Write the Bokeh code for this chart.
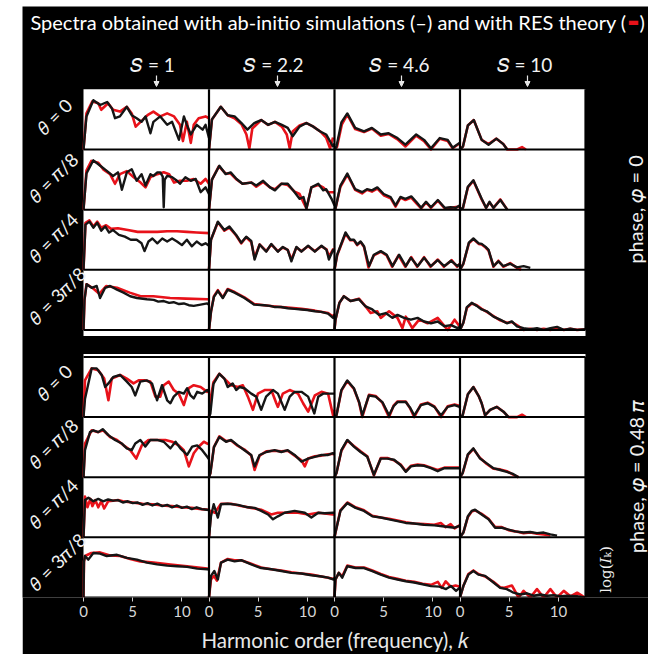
import numpy as np
from bokeh.plotting import figure
from bokeh.models import Range1d, FixedTicker, Label, Spacer, Arrow, NormalHead
from bokeh.layouts import column, row
from bokeh.embed import file_html
from bokeh.resources import INLINE

# ---------------- data (normalised log-intensity inside each panel, 0..1) ----------------
K_SPAN = 12.75                      # harmonic-order range shown in every column
S_VALUES = ["1", "2.2", "4.6", "10"]
THETA_LABELS = ["𝜃 = 0", "𝜃 = 𝜋/8", "𝜃 = 𝜋/4", "𝜃 = 3𝜋/8"]
TICK_VALUES = [0, 5, 10]
PHASE_LABELS = ["phase, 𝜑 = 0", "phase, 𝜑 = 0.48 𝜋"]

# ---- phase 0 (upper block) ----
U_t0_s1_sim_k = [0,0.3,1.0,1.7,2.4,2.9,3.2,3.7,4.4,4.9,5.4,5.9,6.3,6.8,7.1,7.8,8.5,9.0,9.7,10.2,10.5,10.9,11.5,12.1,12.4,12.75]
U_t0_s1_sim_y = [0,0.55,0.82,0.74,0.79,0.68,0.52,0.55,0.71,0.57,0.52,0.46,0.55,0.27,0.46,0.55,0.41,0.46,0.16,0.55,0.41,0.25,0.41,0.33,0.41,0.19]
U_t0_s1_res_k = [0,0.3,0.9,1.5,1.8,2.5,3.0,3.7,4.4,4.9,5.3,5.8,6.5,7.1,7.8,8.5,9.2,9.8,10.1,10.5,10.9,11.2,11.7,12.4,12.75]
U_t0_s1_res_y = [0,0.6,0.8,0.77,0.66,0.77,0.66,0.63,0.71,0.6,0.38,0.46,0.57,0.63,0.55,0.6,0.55,0.41,0.14,0.46,0.11,0.41,0.52,0.55,0.52]

U_t0_s2_sim_k = [0,0.3,1.2,1.9,2.6,3.3,3.9,4.6,5.3,6.0,6.7,7.4,8.0,8.5,9.2,9.9,10.6,11.3,11.9,12.6,12.75]
U_t0_s2_sim_y = [0,0.5,0.71,0.57,0.55,0.44,0.33,0.44,0.49,0.41,0.46,0.41,0.36,0.22,0.38,0.44,0.38,0.30,0.25,0.05,0.1]
U_t0_s2_res_k = [0,0.3,1.2,1.9,2.6,3.3,3.8,4.1,4.4,5.3,6.0,6.7,7.4,7.9,8.2,8.5,9.2,9.9,10.6,11.3,11.9,12.3,12.6]
U_t0_s2_res_y = [0,0.5,0.71,0.57,0.52,0.42,0.25,0.02,0.35,0.49,0.41,0.46,0.38,0.25,0.02,0.3,0.4,0.44,0.38,0.30,0.2,0.02,0.2]

U_t0_s3_sim_k = [0,0.2,0.7,1.3,2.1,3.0,3.8,4.7,5.5,6.4,7.2,8.3,9.1,9.8,10.7,11.5,12.0,12.7]
U_t0_s3_sim_y = [0,0.05,0.45,0.60,0.36,0.30,0.36,0.25,0.27,0.19,0.08,0.25,0.16,0.02,0.19,0.16,0.03,0.11]
U_t0_s3_res_k = [0,0.25,0.75,1.3,2.1,3.0,3.8,4.7,5.5,6.4,7.2,8.3,9.1,9.8,10.7,11.5,12.0,12.7]
U_t0_s3_res_y = [0,0.04,0.42,0.58,0.34,0.29,0.35,0.23,0.26,0.17,0.05,0.23,0.14,0.0,0.18,0.14,0.02,0.1]

U_t0_s4_sim_k = [0,0.3,0.8,1.4,2.2,2.9,3.7,4.4,4.8]
U_t0_s4_sim_y = [0,0.05,0.4,0.49,0.16,0.08,0.18,0.09,0.0]
U_t0_s4_res_k = [0,0.3,0.8,1.4,2.2,2.9,3.7,4.4,4.8,5.8,6.3,6.7]
U_t0_s4_res_y = [0,0.05,0.4,0.49,0.16,0.09,0.18,0.09,0.0,0.0,0.04,0.0]

U_t1_s1_sim_k = [0,0.3,1.0,1.7,2.4,3.0,3.5,3.9,4.4,4.9,5.4,5.9,6.3,6.8,7.1,7.5,7.8,8.05,8.15,8.25,8.5,9.0,9.5,9.8,10.35,10.9,11.4,11.9,12.4,12.75]
U_t1_s1_sim_y = [0,0.6,0.82,0.73,0.64,0.56,0.62,0.33,0.62,0.67,0.48,0.59,0.40,0.59,0.56,0.62,0.62,0.55,0.04,0.5,0.56,0.54,0.48,0.43,0.54,0.48,0.51,0.29,0.37,0.26]
U_t1_s1_res_k = [0,0.3,0.8,1.5,2.0,2.7,3.2,3.7,4.4,5.1,5.8,6.3,6.8,7.5,8.15,8.7,9.2,9.8,10.5,11.2,11.9,12.4,12.75]
U_t1_s1_res_y = [0,0.65,0.81,0.78,0.67,0.59,0.43,0.59,0.64,0.54,0.45,0.37,0.54,0.59,0.62,0.59,0.45,0.48,0.48,0.51,0.43,0.51,0.43]

U_t1_s2_sim_k = [0,0.3,1.05,1.7,2.2,2.8,3.4,4.3,4.8,5.5,6.2,6.7,7.35,8.0,8.7,9.2,9.6,9.9,10.4,11.1,11.6,11.9,12.45,12.75]
U_t1_s2_sim_y = [0,0.5,0.73,0.59,0.62,0.51,0.43,0.45,0.40,0.48,0.37,0.32,0.43,0.43,0.29,0.18,0.21,0.02,0.37,0.43,0.32,0.34,0.18,0.07]
U_t1_s2_res_k = [0,0.3,1.0,1.7,2.2,2.8,3.4,4.3,4.8,5.5,6.2,6.7,7.35,8.0,8.7,9.2,9.6,9.9,10.4,11.1,11.6,12.1,12.75]
U_t1_s2_res_y = [0,0.5,0.72,0.6,0.6,0.5,0.43,0.45,0.38,0.46,0.37,0.34,0.43,0.41,0.3,0.26,0.12,0.02,0.37,0.41,0.37,0.29,0.29]

U_t1_s3_sim_k = [0,0.1,0.6,1.3,2.1,2.8,3.3,3.8,4.35,5.0,5.7,6.2,6.7,7.2,7.8,8.3,8.8,9.3,9.8,10.5,11.2,11.8,12.35,12.7]
U_t1_s3_sim_y = [0,0.02,0.4,0.6,0.34,0.29,0.34,0.32,0.37,0.26,0.21,0.07,0.21,0.18,0.22,0.13,0.03,0.13,0.04,0.16,0.03,0.04,0.03,0.07]
U_t1_s3_res_k = [0,0.1,0.6,1.3,2.1,2.8,3.3,3.8,4.35,5.0,5.7,6.2,6.7,7.2,7.8,8.3,8.8,9.3,9.8,10.5,11.2,11.8,12.7]
U_t1_s3_res_y = [0,0.02,0.38,0.58,0.33,0.27,0.33,0.3,0.35,0.24,0.19,0.05,0.2,0.16,0.2,0.11,0.02,0.12,0.03,0.15,0.02,0.03,0.05]

U_t1_s4_sim_k = [0,0.3,0.8,1.36,2.2,2.65,3.0,3.4,4.1,4.8]
U_t1_s4_sim_y = [0,0.03,0.38,0.49,0.18,0.03,0.13,0.03,0.16,0.0]
U_t1_s4_res_k = [0,0.3,0.8,1.36,2.2,2.65,3.0,3.4,4.1,4.8]
U_t1_s4_res_y = [0,0.03,0.37,0.48,0.17,0.03,0.12,0.03,0.17,0.0]

U_t2_s1_sim_k = [0,0.2,0.6,1.0,1.4,1.8,2.2,2.6,3.0,3.6,4.2,4.8,5.4,5.9,6.2,6.6,7.0,7.5,8.0,8.5,9.0,9.5,10.0,10.5,11.0,11.5,12.0,12.4,12.75]
U_t2_s1_sim_y = [0,0.75,0.8,0.7,0.78,0.65,0.72,0.62,0.66,0.58,0.55,0.5,0.5,0.44,0.31,0.47,0.52,0.44,0.52,0.47,0.52,0.47,0.41,0.5,0.39,0.47,0.41,0.44,0.4]
U_t2_s1_res_k = [0,0.2,0.6,1.0,1.4,1.8,2.3,2.8,3.5,4.5,5.5,6.5,7.5,8.5,9.5,10.5,11.5,12.75]
U_t2_s1_res_y = [0,0.78,0.82,0.72,0.8,0.7,0.74,0.68,0.69,0.66,0.63,0.63,0.63,0.64,0.64,0.63,0.62,0.61]

U_t2_s2_sim_k = [0,0.2,0.9,1.56,2.07,2.76,3.27,3.78,4.29,4.63,5.14,5.82,6.33,7.0,7.5,8.0,8.37,8.88,9.39,10.07,10.75,11.43,11.94,12.18,12.6,12.75]
U_t2_s2_sim_y = [0,0.5,0.8,0.66,0.72,0.58,0.45,0.55,0.48,0.17,0.42,0.3,0.43,0.3,0.38,0.33,0.14,0.38,0.3,0.4,0.3,0.4,0.33,0.17,0.33,0.3]
U_t2_s2_res_k = [0,0.2,0.9,1.56,2.07,2.76,3.27,3.78,4.29,4.63,5.14,5.82,6.33,7.0,7.5,8.0,8.37,8.88,9.39,10.07,10.75,11.43,11.94,12.18,12.6,12.75]
U_t2_s2_res_y = [0,0.5,0.79,0.65,0.7,0.57,0.44,0.54,0.46,0.2,0.42,0.31,0.42,0.31,0.37,0.33,0.17,0.37,0.31,0.39,0.31,0.39,0.34,0.22,0.34,0.32]

U_t2_s3_sim_k = [0,0.27,1.12,1.6,1.97,2.3,2.65,3.0,3.5,4.0,4.7,5.3,5.9,6.56,7.24,7.76,8.44,9.1,9.8,10.48,11.16,11.84,12.5,12.75]
U_t2_s3_sim_y = [0,0.25,0.62,0.5,0.5,0.42,0.47,0.39,0.06,0.25,0.31,0.25,0.06,0.25,0.06,0.2,0.06,0.2,0.06,0.16,0.06,0.15,0.06,0.1]
U_t2_s3_res_k = [0,0.27,1.12,1.6,1.97,2.3,2.65,3.0,3.45,4.0,4.7,5.3,5.85,6.5,7.2,7.8,8.4,9.1,9.75,10.5,11.1,11.9,12.45,12.75]
U_t2_s3_res_y = [0,0.24,0.6,0.49,0.49,0.41,0.46,0.38,0.04,0.24,0.3,0.24,0.05,0.24,0.05,0.21,0.05,0.21,0.05,0.17,0.05,0.16,0.05,0.1]

U_t2_s4_sim_k = [0,0.34,0.9,1.36,1.9,2.2,2.6,2.9,3.4,3.9,4.4,5.1,5.8,6.46,7.14]
U_t2_s4_sim_y = [0,0.1,0.45,0.52,0.44,0.43,0.38,0.33,0.06,0.14,0.06,0.1,0.04,0.06,0.03]
U_t2_s4_res_k = [0,0.34,0.9,1.36,1.9,2.2,2.6,2.9,3.4,3.9,4.4,5.1,5.8,6.2]
U_t2_s4_res_y = [0,0.1,0.44,0.51,0.43,0.42,0.37,0.32,0.05,0.15,0.05,0.11,0.03,0.0]

U_t3_s1_sim_k = [0,0.1,0.32,0.83,1.34,1.68,2.2,2.7,3.4,4.07,4.74,5.43,6.44,7.13,7.6,8.15,8.7,9.16,9.7,10.19,10.7,11.2,11.9,12.57,12.75]
U_t3_s1_sim_y = [0,0.5,0.76,0.7,0.73,0.53,0.7,0.73,0.67,0.62,0.56,0.53,0.51,0.5,0.47,0.48,0.45,0.46,0.43,0.44,0.41,0.4,0.42,0.44,0.42]
U_t3_s1_res_k = [0,0.1,0.3,0.9,1.6,2.3,3.4,4.7,5.8,7.1,8.8,10.4,12.6,12.75]
U_t3_s1_res_y = [0,0.5,0.76,0.7,0.6,0.73,0.7,0.62,0.56,0.56,0.53,0.52,0.51,0.51]

U_t3_s2_sim_k = [0,0.2,0.5,0.9,1.4,1.9,2.6,3.6,4.6,5.6,6.2,6.7,7.3,8.0,8.7,9.4,10.0,10.75,11.4,12.1,12.6,12.75]
U_t3_s2_sim_y = [0,0.3,0.55,0.65,0.53,0.67,0.62,0.53,0.42,0.41,0.4,0.38,0.38,0.36,0.35,0.34,0.33,0.31,0.3,0.27,0.2,0.25]
U_t3_s2_res_k = [0,0.2,0.5,0.9,1.4,1.9,2.6,3.6,4.6,5.6,6.7,8.0,9.4,10.75,12.1,12.6,12.75]
U_t3_s2_res_y = [0,0.3,0.56,0.66,0.54,0.68,0.63,0.54,0.43,0.41,0.39,0.37,0.35,0.32,0.28,0.22,0.26]

U_t3_s3_sim_k = [0,0.1,0.5,0.95,1.63,2.48,3.16,3.84,4.52,5.2,5.88,6.4,7.07,7.76,8.44,9.1,9.8,10.48,11.16,11.84,12.5,12.75]
U_t3_s3_sim_y = [0,0.17,0.45,0.56,0.48,0.51,0.39,0.34,0.25,0.28,0.2,0.25,0.2,0.17,0.2,0.14,0.11,0.14,0.06,0.08,0.03,0.05]
U_t3_s3_res_k = [0,0.1,0.5,0.95,1.63,2.48,3.16,3.67,4.35,4.7,5.54,6.4,6.9,7.24,7.9,8.6,9.46,10.48,11.5,12.2,12.7]
U_t3_s3_res_y = [0,0.17,0.45,0.56,0.48,0.52,0.39,0.28,0.31,0.2,0.31,0.2,0.03,0.22,0.03,0.17,0.11,0.2,0.0,0.17,0.06]

U_t3_s4_sim_k = [0,0.34,0.7,1.19,1.7,2.2,2.72,3.4,4.08,4.76,5.27,5.78,6.46,7.14,7.82,8.5,9.18,9.86,10.54,11.2,11.9,12.7]
U_t3_s4_sim_y = [0,0.12,0.38,0.45,0.4,0.34,0.31,0.22,0.17,0.11,0.14,0.06,0.03,0.01,0.03,0.0,0.03,0.05,0.0,0.02,0.0,0.01]
U_t3_s4_res_k = [0,0.34,0.7,1.19,1.7,2.2,2.72,3.4,4.08,4.76,5.27,5.78,6.46,7.14,7.82,8.5,9.18,9.86,10.54,11.2,11.9,12.7]
U_t3_s4_res_y = [0,0.12,0.37,0.44,0.41,0.35,0.3,0.23,0.16,0.12,0.13,0.08,0.0,0.02,0.0,0.02,0.0,0.03,0.0,0.02,0.0,0.01]

# ---- phase 0.48 pi (lower block) ----
L_t0_s1_sim_k = [0,0.15,0.83,1.34,1.85,2.2,2.53,3.04,3.72,4.4,4.9,5.26,5.77,6.45,6.96,7.47,7.98,8.5,8.83,9.17,9.68,10.19,10.53,10.87,11.2,11.55,12.06,12.57,12.75]
L_t0_s1_sim_y = [0,0.3,0.81,0.81,0.7,0.5,0.56,0.67,0.7,0.59,0.5,0.36,0.59,0.61,0.56,0.28,0.53,0.28,0.23,0.34,0.42,0.39,0.48,0.36,0.31,0.42,0.39,0.45,0.42]
L_t0_s1_res_k = [0,0.15,0.83,1.5,2.1,2.53,2.87,3.72,4.4,5.08,5.6,6.28,6.79,7.3,7.8,8.15,8.66,9.17,9.68,10.19,10.7,11.2,11.9,12.57,12.75]
L_t0_s1_res_y = [0,0.61,0.81,0.78,0.64,0.28,0.64,0.7,0.64,0.56,0.61,0.61,0.59,0.34,0.34,0.53,0.59,0.45,0.39,0.2,0.48,0.53,0.5,0.42,0.45]

L_t0_s2_sim_k = [0,0.14,0.45,1.05,1.56,1.9,2.4,2.76,3.1,3.6,4.29,4.8,5.3,5.8,6.5,7.0,7.69,8.2,8.7,9.39,10.07,10.7,11.1,11.6,12.1,12.6,12.75]
L_t0_s2_sim_y = [0,0.06,0.55,0.72,0.64,0.5,0.56,0.45,0.5,0.48,0.39,0.34,0.12,0.34,0.45,0.39,0.12,0.34,0.42,0.42,0.34,0.06,0.34,0.39,0.39,0.39,0.39]
L_t0_s2_res_k = [0,0.14,0.45,1.05,1.56,2.24,2.93,3.44,3.95,4.46,4.97,5.65,6.33,6.84,7.0,7.5,8.2,9.05,9.56,10.07,10.75,11.43,12.1,12.6,12.75]
L_t0_s2_res_y = [0,0.28,0.58,0.72,0.64,0.53,0.5,0.53,0.34,0.12,0.39,0.45,0.45,0.23,0.17,0.39,0.45,0.39,0.23,0.09,0.36,0.42,0.39,0.03,0.12]

L_t0_s3_sim_k = [0,0.2,0.7,1.3,1.97,2.5,2.82,3.5,4.18,4.86,5.54,6.0,6.4,7.24,7.7,8.1,8.78,9.46,10.14,10.82,11.5,12.2,12.7,12.75]
L_t0_s3_sim_y = [0,0.03,0.45,0.61,0.48,0.25,0.03,0.36,0.34,0.25,0.03,0.18,0.25,0.25,0.15,0.03,0.2,0.23,0.17,0.03,0.17,0.2,0.17,0.15]
L_t0_s3_res_k = [0,0.2,0.7,1.3,1.97,2.5,2.82,3.5,4.18,4.86,5.54,6.0,6.4,7.24,7.7,8.1,8.78,9.46,10.14,10.82,11.5,12.2,12.7,12.75]
L_t0_s3_res_y = [0,0.03,0.44,0.6,0.47,0.24,0.0,0.37,0.35,0.24,0.0,0.19,0.26,0.26,0.14,0.0,0.21,0.24,0.18,0.0,0.18,0.21,0.19,0.17]

L_t0_s4_sim_k = [0,0.27,0.8,1.36,1.9,2.2,2.55,3.06,3.74,4.42,4.93]
L_t0_s4_sim_y = [0,0.03,0.38,0.5,0.35,0.23,0.03,0.12,0.17,0.09,0.0]
L_t0_s4_res_k = [0,0.27,0.8,1.36,1.9,2.2,2.55,3.06,3.74,4.42,4.93,5.8,6.3,6.7]
L_t0_s4_res_y = [0,0.03,0.38,0.5,0.35,0.23,0.03,0.12,0.17,0.09,0.0,0.0,0.04,0.0]

L_t1_s1_sim_k = [0,0.15,0.66,1.0,1.5,1.95,2.53,3.2,3.9,4.4,4.9,5.26,5.77,6.28,6.79,7.47,8.15,8.83,9.35,9.84,10.53,11.04,11.55,12.06,12.57,12.75]
L_t1_s1_sim_y = [0,0.45,0.75,0.78,0.75,0.80,0.70,0.62,0.56,0.48,0.45,0.56,0.62,0.51,0.62,0.62,0.59,0.48,0.59,0.48,0.37,0.51,0.53,0.45,0.34,0.3]
L_t1_s1_res_k = [0,0.15,0.83,1.5,2.0,2.7,3.4,4.07,4.75,5.36,5.93,6.6,7.47,8.32,9.0,9.68,10.19,10.7,11.2,11.72,12.23,12.57,12.75]
L_t1_s1_res_y = [0,0.56,0.78,0.75,0.78,0.67,0.62,0.53,0.45,0.31,0.53,0.62,0.62,0.62,0.59,0.53,0.45,0.18,0.40,0.51,0.59,0.56,0.55]

L_t1_s2_sim_k = [0,0.14,0.5,1.05,1.73,2.24,2.93,3.6,4.29,4.63,5.14,5.82,6.67,7.35,8.0,8.7,9.39,10.07,10.75,11.43,12.1,12.6,12.75]
L_t1_s2_sim_y = [0,0.07,0.5,0.67,0.59,0.62,0.53,0.45,0.37,0.18,0.37,0.42,0.45,0.42,0.45,0.37,0.26,0.31,0.34,0.37,0.37,0.40,0.38]
L_t1_s2_res_k = [0,0.14,0.5,1.05,1.73,2.24,2.93,3.6,4.29,4.63,5.14,5.82,6.67,7.35,8.0,8.7,9.39,9.73,10.07,10.75,11.43,12.1,12.6,12.75]
L_t1_s2_res_y = [0,0.07,0.5,0.68,0.6,0.61,0.52,0.46,0.36,0.12,0.36,0.43,0.44,0.43,0.44,0.36,0.28,0.18,0.31,0.35,0.36,0.38,0.39,0.38]

L_t1_s3_sim_k = [0,0.2,0.7,1.3,1.97,2.65,3.33,4.0,4.7,5.37,6.05,6.73,7.24,7.76,8.44,9.1,9.8,10.48,11.16,11.84,12.7,12.75]
L_t1_s3_sim_y = [0,0.07,0.45,0.62,0.51,0.42,0.34,0.04,0.31,0.31,0.29,0.2,0.09,0.18,0.2,0.19,0.15,0.1,0.15,0.15,0.15,0.15]
L_t1_s3_res_k = [0,0.2,0.7,1.3,1.97,2.65,3.33,4.0,4.7,5.37,6.05,6.73,7.24,7.76,8.44,9.1,9.8,10.48,11.16,11.84,12.7,12.75]
L_t1_s3_res_y = [0,0.07,0.44,0.61,0.52,0.43,0.35,0.03,0.32,0.32,0.28,0.21,0.1,0.19,0.21,0.2,0.16,0.12,0.16,0.16,0.16,0.16]

L_t1_s4_sim_k = [0,0.27,0.8,1.36,2.04,2.72,3.4,4.08,4.76,5.44,5.95]
L_t1_s4_sim_y = [0,0.07,0.38,0.48,0.31,0.23,0.15,0.12,0.09,0.05,0.0]
L_t1_s4_res_k = [0,0.27,0.8,1.36,2.04,2.72,3.4,4.08,4.76,5.44,5.95]
L_t1_s4_res_y = [0,0.07,0.37,0.47,0.32,0.22,0.14,0.13,0.1,0.04,0.0]

L_t2_s1_sim_k = [0,0.15,0.5,1.0,1.5,2.0,2.5,3.0,3.5,4.0,4.5,5.0,5.5,6.0,6.5,7.0,7.5,8.0,8.5,9.0,9.5,10.0,10.5,11.0,11.5,12.0,12.5,12.75]
L_t2_s1_sim_y = [0,0.62,0.66,0.6,0.64,0.6,0.63,0.61,0.62,0.58,0.6,0.57,0.58,0.54,0.57,0.53,0.56,0.52,0.54,0.5,0.53,0.49,0.51,0.47,0.5,0.47,0.46,0.45]
L_t2_s1_res_k = [0,0.15,0.4,0.7,0.9,1.2,1.5,1.8,2.1,2.5,3.0,3.5,4.0,4.5,5.0,5.5,6.0,7.0,8.0,9.0,10.0,11.0,12.0,12.75]
L_t2_s1_res_y = [0,0.68,0.5,0.64,0.52,0.62,0.5,0.6,0.48,0.6,0.61,0.62,0.6,0.59,0.58,0.57,0.56,0.55,0.53,0.52,0.5,0.49,0.47,0.46]

L_t2_s2_sim_k = [0,0.2,0.48,0.9,1.22,1.9,2.93,3.95,4.63,5.3,6.0,6.5,7.0,7.69,8.7,9.73,10.4,11.1,11.77,12.6,12.75]
L_t2_s2_sim_y = [0,0.35,0.55,0.33,0.55,0.56,0.54,0.5,0.49,0.44,0.38,0.3,0.35,0.41,0.44,0.41,0.33,0.41,0.4,0.41,0.41]
L_t2_s2_res_k = [0,0.2,0.6,1.22,2.24,3.27,4.29,5.3,6.33,7.0,8.0,9.05,10.07,11.1,12.6,12.75]
L_t2_s2_res_y = [0,0.44,0.41,0.56,0.56,0.52,0.49,0.46,0.38,0.41,0.41,0.41,0.38,0.41,0.38,0.38]

L_t2_s3_sim_k = [0,0.1,0.6,1.3,2.14,3.0,3.84,4.7,5.54,6.4,7.24,8.1,9.1,10.14,11.16,12.2,12.7,12.75]
L_t2_s3_sim_y = [0,0.08,0.44,0.57,0.49,0.44,0.35,0.33,0.30,0.27,0.24,0.23,0.21,0.2,0.18,0.16,0.19,0.18]
L_t2_s3_res_k = [0,0.1,0.6,1.3,2.14,3.0,3.84,4.7,5.54,6.4,7.24,8.1,9.1,10.14,10.8,11.3,11.8,12.2,12.7,12.75]
L_t2_s3_res_y = [0,0.08,0.45,0.58,0.5,0.45,0.36,0.33,0.31,0.28,0.25,0.23,0.22,0.21,0.24,0.17,0.22,0.15,0.2,0.19]

L_t2_s4_sim_k = [0,0.34,0.8,1.19,1.53,2.2,2.9,3.57,4.25,4.93,5.6,6.46,7.14,7.82,8.5,9.18,9.86]
L_t2_s4_sim_y = [0,0.08,0.35,0.44,0.46,0.38,0.30,0.16,0.16,0.13,0.10,0.08,0.09,0.07,0.08,0.05,0.03]
L_t2_s4_res_k = [0,0.34,0.8,1.19,1.53,2.2,2.9,3.57,4.25,4.93,5.6,6.46,7.14,7.82,8.5,9.18]
L_t2_s4_res_y = [0,0.08,0.34,0.43,0.45,0.39,0.31,0.17,0.17,0.12,0.1,0.07,0.08,0.06,0.05,0.03]

L_t3_s1_sim_k = [0,0.05,0.15,0.49,1.0,1.68,2.36,3.4,4.4,5.43,6.45,7.47,8.5,9.5,10.53,11.55,12.57,12.75]
L_t3_s1_sim_y = [0,0.6,0.69,0.63,0.74,0.73,0.69,0.71,0.66,0.63,0.58,0.55,0.53,0.52,0.51,0.48,0.47,0.46]
L_t3_s1_res_k = [0,0.05,0.15,0.8,1.68,2.7,3.72,4.75,5.77,7.13,8.83,10.53,12.57,12.75]
L_t3_s1_res_y = [0,0.6,0.69,0.74,0.75,0.7,0.69,0.64,0.6,0.58,0.55,0.52,0.48,0.48]

L_t3_s2_sim_k = [0,0.2,0.54,0.9,1.22,1.9,2.6,3.27,4.29,5.3,6.33,7.35,8.37,9.39,10.4,11.43,12.1,12.6,12.75]
L_t3_s2_sim_y = [0,0.36,0.44,0.3,0.58,0.63,0.6,0.62,0.55,0.49,0.47,0.44,0.41,0.4,0.37,0.35,0.33,0.3,0.32]
L_t3_s2_res_k = [0,0.2,0.5,0.8,1.22,1.9,2.6,3.27,4.29,5.3,6.33,7.35,8.37,9.39,10.4,11.43,12.1,12.6,12.75]
L_t3_s2_res_y = [0,0.3,0.36,0.28,0.58,0.64,0.62,0.62,0.56,0.5,0.47,0.45,0.42,0.4,0.38,0.35,0.33,0.31,0.31]

L_t3_s3_sim_k = [0,0.1,0.44,0.78,1.3,2.14,3.0,3.84,4.7,5.54,6.4,7.24,8.1,8.95,9.8,10.65,11.33,11.84,12.35,12.7,12.75]
L_t3_s3_sim_y = [0,0.3,0.41,0.33,0.52,0.49,0.49,0.44,0.38,0.33,0.3,0.27,0.25,0.22,0.19,0.18,0.14,0.19,0.11,0.16,0.15]
L_t3_s3_res_k = [0,0.1,0.44,0.78,1.3,2.14,3.0,3.84,4.7,5.54,6.4,7.24,8.1,8.95,9.8,10.5,10.9,11.3,11.8,12.3,12.75]
L_t3_s3_res_y = [0,0.3,0.41,0.35,0.53,0.5,0.5,0.45,0.39,0.34,0.31,0.28,0.26,0.23,0.21,0.26,0.16,0.27,0.18,0.2,0.18]

L_t3_s4_sim_k = [0,0.34,0.85,1.36,1.87,2.55,3.4,4.08,4.76,5.44,6.12,6.8,7.48,8.16,8.84,9.52,10.2,10.88,11.9,12.7]
L_t3_s4_sim_y = [0,0.19,0.38,0.44,0.38,0.36,0.25,0.16,0.14,0.08,0.05,0.07,0.03,0.05,0.03,0.04,0.02,0.03,0.02,0.0]
L_t3_s4_res_k = [0,0.34,0.85,1.36,1.87,2.55,3.4,4.08,4.42,5.27,5.95,6.46,7.14,7.82,8.5,9.18,9.86,10.54,11.22,11.9,12.7]
L_t3_s4_res_y = [0,0.19,0.39,0.45,0.39,0.35,0.26,0.17,0.16,0.2,0.0,0.11,0.0,0.14,0.0,0.14,0.0,0.11,0.02,0.08,0.0]

# ---------------- layout constants ----------------
GAP = 0.45                         # vertical gap (in row heights) between the two phase blocks
Y_TOP = 8 + GAP
BLOCK_BASE = {"U": 4 + GAP, "L": 0.0}
SIM_COLOR = "#151515"
RES_COLOR = "#e8121a"
FONT = "Lato"

g = globals()
panels = []
for grp in ("U", "L"):
    for t in range(4):
        for s in range(4):
            pre = f"{grp}_t{t}_s{s+1}_"
            panels.append((grp, t, s, g[pre + "sim_k"], g[pre + "sim_y"], g[pre + "res_k"], g[pre + "res_y"]))

W_FIG, H_FIG = 626, 648            # figure sits at page x=22, y=6
OX, OY = 22, 6
PANEL_L, PANEL_R, PANEL_T, PANEL_B = 83, 585, 89, 598   # page pixels of the panel grid
BOTTOM_BORDER = OY + H_FIG - PANEL_B                     # room for the x axis

ppx = (PANEL_R - PANEL_L) / (4 * K_SPAN)
ppy = (PANEL_B - PANEL_T) / Y_TOP
x_rng = Range1d(-(PANEL_L - OX) / ppx, 4 * K_SPAN + (OX + W_FIG - PANEL_R) / ppx)
y_rng = Range1d(0, Y_TOP + (PANEL_T - OY) / ppy)

def sx(X):          # page pixel -> frame screen units
    return X - OX

def sy(Y):
    return PANEL_B - Y

p = figure(width=W_FIG, height=H_FIG, x_range=x_rng, y_range=y_rng,
           output_backend="svg", toolbar_location=None, y_axis_location=None,
           min_border_left=0, min_border_right=0, min_border_top=0, min_border_bottom=BOTTOM_BORDER,
           background_fill_color="black", border_fill_color="black", outline_line_color=None)
p.grid.visible = False

# white panel blocks
p.quad(left=[0, 0], right=[4 * K_SPAN, 4 * K_SPAN], bottom=[BLOCK_BASE["U"] - 0.1, 0.0],
       top=[Y_TOP, 4.05], fill_color="white", line_color=None)

for grp, t, s, sk, sy_, rk, ry in panels:
    base = BLOCK_BASE[grp] + (3 - t)
    x0 = s * K_SPAN
    p.line(np.array(rk) + x0, np.array(ry) + base, line_color=RES_COLOR, line_width=2.6, line_join="round")
    p.line(np.array(sk) + x0, np.array(sy_) + base, line_color=SIM_COLOR, line_width=2.4, line_join="round")

# panel dividers
hlines = [BLOCK_BASE["L"] + r for r in range(5)] + [BLOCK_BASE["U"] + r for r in range(4)]
p.segment(x0=[0] * len(hlines), x1=[4 * K_SPAN] * len(hlines), y0=hlines, y1=hlines, line_color="black", line_width=2)
vx = [s * K_SPAN for s in range(1, 5)]
p.segment(x0=vx, x1=vx, y0=[0] * 4, y1=[4] * 4, line_color="black", line_width=2.2)
p.segment(x0=vx, x1=vx, y0=[BLOCK_BASE["U"]] * 4, y1=[Y_TOP] * 4, line_color="black", line_width=2.2)

# x axis: 0, 5, 10 under each column
ticks = [s * K_SPAN + v for s in range(4) for v in TICK_VALUES]
p.xaxis.ticker = FixedTicker(ticks=ticks)
p.xaxis.major_label_overrides = {s * K_SPAN + v: str(v) for s in range(4) for v in TICK_VALUES}
p.xaxis.minor_tick_line_color = None
p.xaxis.axis_line_color = None
p.xaxis.major_tick_line_color = "#d0d0d0"
p.xaxis.major_tick_in = 0
p.xaxis.major_tick_out = 4
p.xaxis.major_label_text_color = "#d8d8d8"
p.xaxis.major_label_text_font = FONT
p.xaxis.major_label_text_font_size = "15px"
p.xaxis.major_label_standoff = 4
p.xaxis.axis_label = "Harmonic order (frequency), 𝑘"
p.xaxis.axis_label_text_font = FONT
p.xaxis.axis_label_text_font_style = "normal"
p.xaxis.axis_label_text_font_size = "20.5px"
p.xaxis.axis_label_text_color = "#e8e8e8"
p.xaxis.axis_label_standoff = 8

def lab(X, Y, text, size, color="white", font=FONT, style="normal", align="center", angle=0.0, baseline="middle"):
    p.add_layout(Label(x=sx(X), y=sy(Y), x_units="screen", y_units="screen", text=text,
                       text_font=font, text_font_size=f"{size}px", text_font_style=style,
                       text_color=color, text_align=align, text_baseline=baseline, angle=angle))

# title
lab(627, 22, "Spectra obtained with ab-initio simulations (–) and with RES theory (", 20, align="right")
lab(633, 22, "▬", 12, color=RES_COLOR, font="DejaVu Sans")
lab(639, 22, ")", 20, align="left")

# S headers + arrows
S_X = [152, 273, 399, 524]
ARROW_X = [156, 277, 401, 527]
for i, sval in enumerate(S_VALUES):
    lab(S_X[i], 65, "𝑆 = " + sval, 19, color="#f2f2f2")
    p.add_layout(Arrow(x_start=sx(ARROW_X[i]), y_start=sy(76), x_end=sx(ARROW_X[i]), y_end=sy(87),
                       start_units="screen", end_units="screen", line_color="#e6e6e6", line_width=1.2,
                       end=NormalHead(size=5, fill_color="#e6e6e6", line_color="#e6e6e6")))

# theta labels
ROW_LABEL_XY = [(54, 117), (53, 178), (53, 238), (57, 296)]
for grp_off in (0, 266):
    for t, txt in enumerate(THETA_LABELS):
        X, Y = ROW_LABEL_XY[t]
        lab(X, Y + grp_off, txt, 18.5, color="#f0f0f0", angle=np.pi / 4)

# right-hand labels
lab(634, 210, PHASE_LABELS[0], 20, color="#f0f0f0", angle=np.pi / 2)
lab(635, 477, PHASE_LABELS[1], 20, color="#f0f0f0", angle=np.pi / 2)
lab(605, 570, "log(𝐼ₖ)", 15, color="#f0f0f0", font="DejaVu Serif", angle=np.pi / 2)

layout = column(Spacer(width=648, height=OY), row(Spacer(width=OX, height=H_FIG), p))
open("out.html", "w").write(file_html(layout, INLINE))
